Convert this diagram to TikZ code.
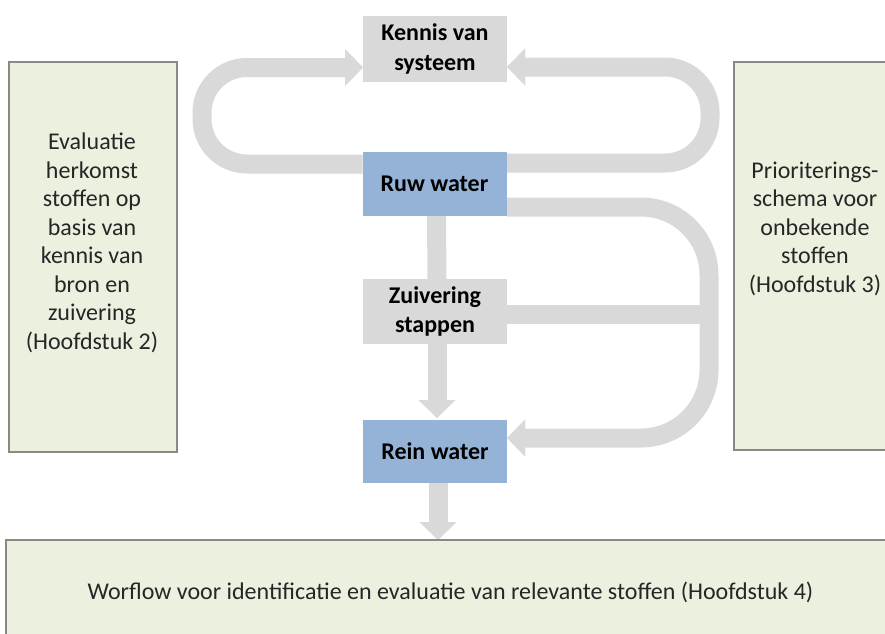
\documentclass[tikz,border=0pt]{standalone}
\usepackage{fontspec}
\setmainfont{Carlito}
\usetikzlibrary{arrows.meta,backgrounds}

\definecolor{flowgrey}{HTML}{D9D9D9}
\definecolor{waterblue}{HTML}{95B3D7}
\definecolor{notegreen}{HTML}{EBF1DE}
\definecolor{noteborder}{HTML}{8A8A82}
\definecolor{inktext}{HTML}{262626}

\tikzset{
  stepbox/.style={rectangle, inner sep=0pt, outer sep=0pt,
    minimum width=144pt, align=center, text=black,
    font=\fontsize{24}{29.5}\selectfont\bfseries},
  greybox/.style={stepbox, fill=flowgrey},
  bluebox/.style={stepbox, fill=waterblue},
  notebox/.style={rectangle, inner sep=0pt, outer sep=0pt,
    fill=notegreen, draw=noteborder, line width=1.3pt},
  notetext/.style={align=center, inner sep=0pt, text=inktext,
    font=\fontsize{24}{28.5}\selectfont},
  flow/.style={draw=flowgrey, line width=19pt, line cap=butt},
  flowtip/.style={-{Triangle[width=37pt,length=18pt,line width=0.01pt]}},
}

\begin{document}
\begin{tikzpicture}[x=1pt,y=-1pt]
\useasboundingbox (0,0) rectangle (885,633);
\clip (0,0) rectangle (885,633);

% side panels and the bottom panel
\node[notebox, minimum width=168pt, minimum height=390pt] (leftpanel) at (93,257) {};
\node[notetext] (lefttext) at (92,243)
  {Evaluatie\\herkomst\\stoffen op\\basis van\\kennis van\\bron en\\zuivering\\(Hoofdstuk 2)};

\node[notebox, minimum width=161pt, minimum height=388pt] (rightpanel) at (814.5,256) {};
\node[notetext] (righttext) at (815,228.5)
  {Prioriterings-\\schema voor\\onbekende\\stoffen\\(Hoofdstuk 3)};

\node[notebox, minimum width=889pt, minimum height=105pt, text=inktext,
      font=\fontsize{24}{28.5}\selectfont] (workflow) at (450.5,592.5)
  {Worflow voor identificatie en evaluatie van relevante stoffen (Hoofdstuk 4)};

% process boxes
\node[greybox, minimum height=66pt] (kennis) at (435,49) {Kennis van\\systeem};
\node[bluebox, minimum height=64pt] (ruw) at (434.5,184) {Ruw water};
\node[greybox, minimum height=65pt] (zuiv) at (435,311.5) {Zuivering\\stappen};
\node[bluebox, minimum height=63pt] (rein) at (435,451.5) {Rein water};

\begin{scope}[on background layer]
  % loops from raw water back to the system knowledge
  \draw[flow, flowtip, rounded corners=45pt]
    ([yshift=20pt]ruw.west) -- (202,164) -- (202,67.5) -- ([yshift=-18.5pt]kennis.west);
  \draw[flow, flowtip, rounded corners=45pt]
    ([yshift=21pt]ruw.east) -- (710,163) -- (710,67) -- ([yshift=-18pt]kennis.east);
  % bypass from raw water and treatment steps to clean water
  \draw[flow, flowtip, rounded corners=68pt]
    ([yshift=-23pt]ruw.east) -- (709,207) -- (709,438) -- ([yshift=13.5pt]rein.east);
  \draw[flow] ([yshift=-2.5pt]zuiv.east) -- (709,314);
  % main treatment chain
  \draw[flow] ([xshift=2pt]ruw.south) -- ([xshift=2pt]zuiv.north);
  \draw[flow, flowtip] ([xshift=2pt]zuiv.south) -- ([xshift=2pt,yshift=2pt]rein.north);
  \draw[flow, flowtip] ([xshift=3pt]rein.south) -- ([xshift=3pt]rein.south |- workflow.north);
\end{scope}
\end{tikzpicture}
\end{document}
